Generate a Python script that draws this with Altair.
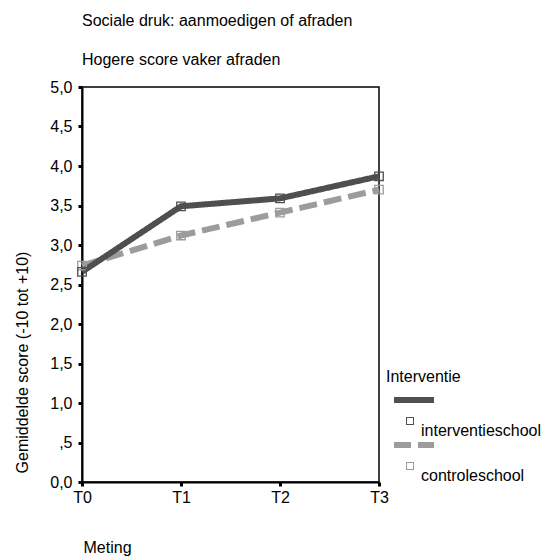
import altair as alt
import pandas as pd

times = ["T0", "T1", "T2", "T3"]
groups = ["interventieschool", "controleschool"]
interventie = [2.66, 3.49, 3.59, 3.87]
controle = [2.74, 3.12, 3.41, 3.70]

rows = []
for t, v in zip(times, interventie):
    rows.append({"Meting": t, "score": v, "Interventie": groups[0]})
for t, v in zip(times, controle):
    rows.append({"Meting": t, "score": v, "Interventie": groups[1]})
df = pd.DataFrame(rows)

line_colors = ["#4f4f4f", "#9c9c9c"]
dashes = [[1, 0], [18, 7]]

# legend symbols: line (solid / dashed) above, small open square below
sym_int = "M0,-8.5L10,-8.5L10,-7L0,-7ZM3,-3.5L5,-3.5L5,-1.5L3,-1.5ZM3.25,-3.25L3.25,-1.75L4.75,-1.75L4.75,-3.25Z"
sym_con = "M0,-8.5L4.25,-8.5L4.25,-7L0,-7ZM6,-8.5L10,-8.5L10,-7L6,-7ZM3,-3.5L5,-3.5L5,-1.5L3,-1.5ZM3.25,-3.25L3.25,-1.75L4.75,-1.75L4.75,-3.25Z"

FONT = "Liberation Sans"

x_enc = alt.X("Meting:N", sort=times,
              scale=alt.Scale(type="point", padding=0),
              axis=alt.Axis(title="Meting", labelAngle=0, titleX=1, titleY=70,
                            titleAlign="left", titleBaseline="alphabetic",
                            titleFontWeight="normal", labelPadding=3))
y_enc = alt.Y("score:Q",
              scale=alt.Scale(domain=[0, 5], nice=False, zero=True),
              axis=alt.Axis(title="Gemiddelde score (-10 tot +10)",
                            values=[0, 0.5, 1, 1.5, 2, 2.5, 3, 3.5, 4, 4.5, 5],
                            labelExpr="datum.value == 0.5 ? ',5' : replace(format(datum.value, '.1f'), '.', ',')",
                            titleX=-60, titleY=275, titleAngle=-90,
                            titleAlign="center", titleBaseline="middle",
                            titleFontWeight="normal", labelPadding=6))

# visible marks use the domain in reverse order so their (hidden) legends
# are not merged with the custom legend below
stroke_enc = alt.Stroke("Interventie:N",
                        scale=alt.Scale(domain=groups[::-1], range=line_colors[::-1]),
                        legend=None)
dash_enc = alt.StrokeDash("Interventie:N",
                          scale=alt.Scale(domain=groups[::-1], range=dashes[::-1]),
                          legend=None)

base = alt.Chart(df)

line_con = base.transform_filter(alt.datum.Interventie == groups[1]).mark_line(
    strokeWidth=6, strokeCap="butt").encode(x=x_enc, y=y_enc, stroke=stroke_enc, strokeDash=dash_enc)
line_int = base.transform_filter(alt.datum.Interventie == groups[0]).mark_line(
    strokeWidth=6, strokeCap="butt").encode(x=x_enc, y=y_enc, stroke=stroke_enc, strokeDash=dash_enc)

pt_con = base.transform_filter(alt.datum.Interventie == groups[1]).mark_point(
    shape="square", filled=False, size=72, strokeWidth=1.3, opacity=1).encode(
    x=x_enc, y=y_enc, stroke=stroke_enc)
pt_int = base.transform_filter(alt.datum.Interventie == groups[0]).mark_point(
    shape="square", filled=False, size=72, strokeWidth=1.3, opacity=1).encode(
    x=x_enc, y=y_enc, stroke=stroke_enc)

leg = alt.Legend(title="Interventie", orient="none",
                 legendX=304, legendY=282, padding=0,
                 symbolSize=64, symbolStrokeWidth=0, symbolOpacity=1,
                 labelOffset=19, rowPadding=3, titlePadding=38,
                 titleFontWeight="normal")

# legend-only layer: no marks drawn, legend built from the scale domains
legend_layer = base.transform_filter("false").mark_point(filled=True, size=64, opacity=1).encode(
    x=x_enc, y=y_enc,
    fill=alt.Fill("Interventie:N", scale=alt.Scale(domain=groups, range=line_colors), legend=leg),
    shape=alt.Shape("Interventie:N", scale=alt.Scale(domain=groups, range=[sym_int, sym_con]), legend=leg),
)

chart = alt.layer(line_con, line_int, pt_con, pt_int, legend_layer).properties(
    width=297, height=395,
    autosize=alt.AutoSizeParams(type="none"),
    padding={"left": 74, "top": 79, "right": 163, "bottom": 76},
    title=alt.Title(text="Sociale druk: aanmoedigen of afraden",
                    subtitle="Hogere score vaker afraden",
                    anchor="start", frame="group", fontSize=16, subtitleFontSize=16,
                    fontWeight="normal", font=FONT, subtitleFont=FONT,
                    color="black", subtitleColor="black",
                    offset=11, subtitlePadding=23),
).configure(font=FONT).configure_view(
    stroke="black", strokeWidth=1.5
).configure_axis(
    labelFont=FONT, titleFont=FONT, labelFontSize=16, titleFontSize=16,
    labelColor="black", titleColor="black", domainColor="black", domainWidth=2,
    tickColor="black", tickSize=4, tickWidth=3, grid=False
).configure_legend(
    labelFont=FONT, titleFont=FONT, labelFontSize=16, titleFontSize=16,
    labelColor="black", titleColor="black"
)

chart.save("out.html", embed_options={"renderer": "svg", "actions": False})
